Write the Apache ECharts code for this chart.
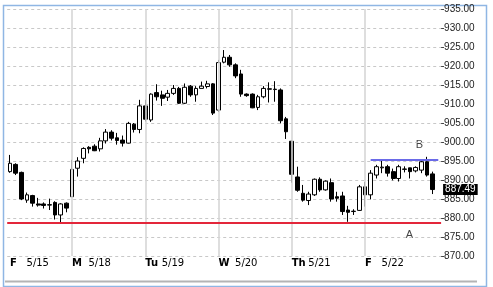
<!DOCTYPE html>
<html><head><meta charset="utf-8">
<script src="https://cdn.jsdelivr.net/npm/echarts@6/dist/echarts.min.js"></script>
<style>html,body{margin:0;padding:0;background:#fff}#c{width:493px;height:287px}</style>
</head><body><div id="c"></div>
<script>
// ---- data ----
const dayLabels = ['F 5/15','M 5/18','Tu 5/19','W 5/20','Th 5/21','F 5/22'];
const barsPerDay = [11,13,13,13,13,13];
const opens = [892.2,894.1,892.0,884.7,885.9,883.7,883.7,883.5,884.1,880.8,883.9,
 885.6,893.1,895.7,898.6,898.9,898.2,900.3,902.6,901.1,900.5,899.7,904.7,903.3,
 909.5,905.8,913.0,912.4,911.8,912.8,914.1,910.2,914.7,912.4,914.1,914.6,915.3,
 908.4,921.0,922.3,920.3,917.9,912.6,912.6,909.1,911.9,914.0,913.9,913.7,906.1,
 900.2,890.8,886.5,884.6,886.1,890.2,887.4,889.3,885.6,885.8,882.1,881.7,882.0,
 888.2,886.1,891.3,893.2,893.5,892.2,890.4,892.8,893.2,892.4,892.6,894.8,891.6];
const closes = [894.4,891.8,885.0,886.1,883.9,883.4,883.3,883.4,880.8,883.7,882.6,
 892.8,895.0,898.3,898.2,897.7,900.3,902.6,901.0,900.4,899.7,904.9,903.3,909.5,
 906.0,912.6,911.9,911.5,912.8,914.1,910.2,914.4,912.4,914.1,914.7,915.3,907.6,
 920.9,922.3,920.3,917.4,912.6,912.2,909.0,911.9,914.1,913.9,913.8,905.6,902.7,
 891.5,887.3,884.7,886.3,890.2,887.4,889.7,885.0,885.2,881.7,881.5,881.8,888.2,
 886.1,891.8,893.5,893.4,891.8,890.4,893.5,892.9,892.2,893.3,894.8,891.3,887.49];
const lows = [891.9,891.3,884.7,884.0,883.0,883.0,882.5,882.1,879.6,878.9,881.5,
 885.5,890.9,894.4,897.0,897.6,897.5,899.6,900.4,899.3,898.8,899.6,902.5,902.3,
 905.4,905.3,910.9,909.5,910.8,912.4,910.0,910.0,911.9,910.6,914.1,914.1,907.1,
 907.9,920.7,919.8,916.8,911.9,911.9,908.9,908.4,911.5,910.4,910.6,904.9,900.8,
 889.3,886.9,884.3,883.4,885.8,886.9,887.2,884.3,884.3,880.8,879.0,880.8,881.9,
 883.0,884.9,890.4,891.8,890.9,889.9,889.6,892.0,890.4,892.0,891.8,890.9,886.3];
const highs = [896.6,894.4,892.2,886.7,886.1,885.3,884.1,885.1,884.4,883.9,884.1,
 895.3,896.0,898.6,898.9,899.4,901.1,903.4,903.1,902.4,901.7,905.3,905.0,911.1,
 911.1,912.8,915.2,913.5,913.7,915.0,914.5,915.4,915.0,914.7,915.9,916.1,915.5,
 921.6,924.2,922.9,920.7,919.0,912.8,912.8,912.4,914.7,915.7,916.0,914.1,906.6,
 900.4,893.5,888.7,886.9,890.4,890.7,889.9,890.4,886.9,886.9,883.2,882.3,888.7,
 889.5,892.6,894.0,895.3,894.0,893.0,894.0,893.6,893.2,893.6,895.3,896.1,892.2];
const yMin = 870, yMax = 935, yStep = 5;
const levelA = 878.8;          // red support line "A"
const levelB = 895.4;          // blue resistance line "B"
const levelBStartBar = 64;
const lastPrice = 887.49;

// ---- build ----
const categories = [];
const dayStarts = [];
barsPerDay.forEach((n, d) => {
  dayStarts.push(categories.length);
  for (let k = 0; k < n; k++) categories.push(dayLabels[d] + ' #' + (k + 1));
});
const nBars = categories.length;
categories.push('');   // empty right-margin slot (no bar)
const candles = opens.map((o, i) => [o, closes[i], lows[i], highs[i]]);

const chart = echarts.init(document.getElementById('c'), null, {renderer: 'canvas'});
chart.setOption({
  animation: false,
  backgroundColor: '#fff',
  grid: {left: 7.2, top: 9, width: 433.9, height: 247, containLabel: false},
  xAxis: {
    type: 'category', data: categories, boundaryGap: true,
    axisLine: {show: false}, axisTick: {show: false}, splitLine: {show: false},
    axisLabel: {
      interval: (idx) => dayStarts.includes(idx),
      align: 'left', margin: 1, lineHeight: 12,
      formatter: (v) => {
        if (!v) return '';
        const parts = v.split(' #')[0].split(' ');
        return '{d|' + parts[0] + '}{t|' + parts[1] + '}';
      },
      rich: {
        d: {fontFamily: 'DejaVu Sans', fontSize: 10, fontWeight: 'bold', color: '#000', width: 16.5},
        t: {fontFamily: 'DejaVu Sans', fontSize: 10, color: '#000'}
      }
    }
  },
  yAxis: {
    type: 'value', position: 'right', min: yMin, max: yMax, interval: yStep,
    axisLine: {show: false},
    axisTick: {show: true, length: 3, lineStyle: {color: '#444'}},
    axisLabel: {margin: 3, fontFamily: 'Liberation Sans', fontSize: 10, color: '#222',
      formatter: (v) => v.toFixed(2)},
    splitLine: {show: true, lineStyle: {color: '#c8c8c8', type: [3, 3], width: 1}}
  },
  series: [
    {
      type: 'line', data: [], z: 1, silent: true,
      markLine: {
        silent: true, symbol: 'none', animation: false,
        label: {show: false},
        lineStyle: {color: '#d6d6d6', width: 1.6, type: 'solid'},
        data: dayStarts.slice(1).map(i => ({xAxis: i}))
      }
    },
    {
      type: 'candlestick', z: 3, data: candles, barWidth: 4.2,
      itemStyle: {color: '#fff', color0: '#000', borderColor: '#000', borderColor0: '#000', borderWidth: 1},
      markLine: {
        silent: true, symbol: 'none', animation: false,
        label: {show: false},
        data: [
          {yAxis: levelA, lineStyle: {color: '#e3263a', width: 2, type: 'solid'}},
          [{coord: [levelBStartBar, levelB], lineStyle: {color: '#6a6ae8', width: 2, type: 'solid'}},
           {coord: [nBars, levelB]}],
          {yAxis: lastPrice, lineStyle: {color: 'rgba(0,0,0,0)', width: 0},
           label: {show: true, position: 'end', distance: 2, formatter: lastPrice.toFixed(2),
             color: '#fff', backgroundColor: '#000', padding: [1, 2, 0, 2],
             fontFamily: 'Liberation Sans', fontSize: 10, lineHeight: 10}}
        ]
      }
    }
  ],
  graphic: [
    {type: 'rect', shape: {x: 3.5, y: 5.5, width: 483, height: 281}, style: {fill: 'none', stroke: '#8fb6e4', lineWidth: 1.5}, silent: true},
    {type: 'line', shape: {x1: 5, y1: 281.5, x2: 477, y2: 281.5}, style: {stroke: '#b4b4b4', lineWidth: 2}, silent: true},
    {type: 'text', x: 419.3, y: 145.3, style: {text: 'B', fill: '#444', font: '11px "Liberation Sans"', textAlign: 'center', textVerticalAlign: 'middle'}, silent: true},
    {type: 'text', x: 409.3, y: 235, style: {text: 'A', fill: '#444', font: '11px "Liberation Sans"', textAlign: 'center', textVerticalAlign: 'middle'}, silent: true}
  ]
});
</script></body></html>
